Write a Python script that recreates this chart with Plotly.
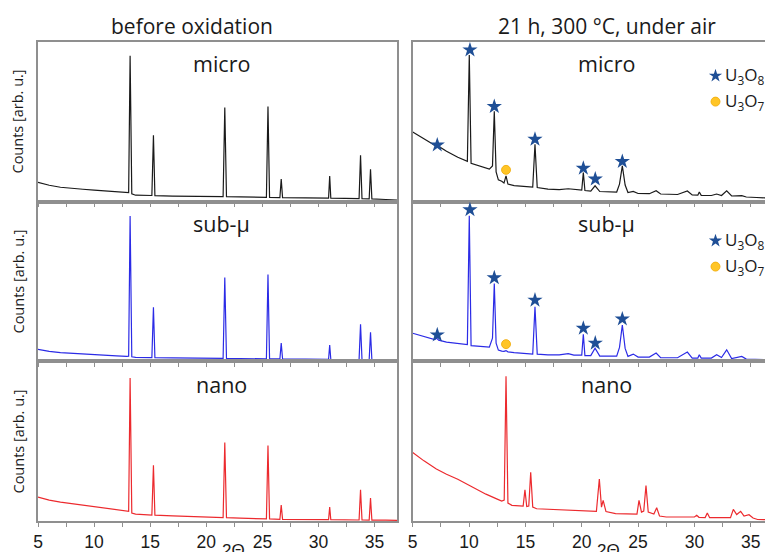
import plotly.graph_objects as go

# ---------------- data (2θ in degrees, counts in arb. units) ----------------
before_micro_2theta = [5, 6, 7, 8, 9, 10, 11, 12, 12.9, 13.08, 13.21, 13.36, 13.7, 15.15, 15.29, 15.42,
                       17, 20, 21.5, 21.65, 21.8, 23, 25.36, 25.5, 25.64, 26.56, 26.68, 26.8, 28,
                       30.9, 31.0, 31.1, 33.62, 33.75, 33.88, 34.52, 34.64, 34.76, 36, 37]
before_micro_counts = [19.5, 16.5, 14.5, 13.3, 12.5, 11.7, 10.8, 9.8, 8.8, 9, 146.7, 8, 6.5, 6.2, 66.7, 6,
                       5.5, 5.2, 5, 94.7, 5, 4.8, 4.3, 95.7, 4.3, 4, 22.7, 4, 3.8,
                       3.5, 25.7, 3.5, 3, 46.7, 3, 2.8, 32.7, 2.8, 2.2, 1.5]

before_sub_2theta = before_micro_2theta
before_sub_counts = [12, 10, 8.8, 8, 7.3, 6.7, 6.1, 5.5, 5, 5.2, 146.3, 4.6, 4, 3.7, 54.3, 3.6,
                     3.4, 3.1, 2.9, 84.3, 2.9, 2.8, 2.5, 87.3, 2.5, 2.4, 18.3, 2.4, 2.3,
                     2.1, 16.3, 2.1, 1.8, 37.3, 1.8, 1.7, 29.3, 1.7, 1.4, 1.2]

before_nano_2theta = before_micro_2theta
before_nano_counts = [24, 21, 19, 17.5, 16, 14.5, 13, 11, 9.5, 9.8, 144, 8, 7, 6, 56, 5.9,
                      5.2, 4.2, 3.5, 79, 3.4, 2.8, 2.2, 76, 2.1, 1.6, 16, 1.6, 1.5,
                      1.3, 14, 1.3, 1, 31.3, 1, 0.9, 23, 0.9, 0.8, 0.7]

after_micro_2theta = [5.0, 5.5, 6.0, 6.5, 6.95, 7.13, 7.3, 8.0, 9.0, 9.85, 10.02, 10.18, 11.0, 11.8, 12.08,
                      12.24, 12.4, 12.6, 12.9, 13.1, 13.28, 13.45, 14.0, 15.0, 15.65, 15.85, 16.05, 17.0,
                      18.0, 18.8, 19.3, 20.0, 20.14, 20.28, 20.8, 21.18, 21.6, 23.1, 23.35, 23.6, 23.85,
                      24.1, 24.57, 25.0, 26.0, 26.6, 27.0, 28.5, 29.37, 29.8, 30.3, 30.43, 30.6, 31.5,
                      31.97, 32.4, 32.86, 33.3, 34.2, 34.6, 35.5, 36.4]
after_micro_counts = [70, 66.7, 63.2, 60.2, 56.7, 58.7, 55.7, 50.7, 44.7, 40.5, 147.7, 38.7, 35.7, 32.7, 36,
                      91, 30, 22, 20.5, 18.7, 26, 17.7, 16.2, 15.2, 14.7, 57.7, 14.2, 12.7,
                      12.2, 13, 12.2, 11.7, 29.4, 11.2, 10.7, 16, 10.2, 9.7, 17.7, 36, 16.7,
                      9.2, 10.4, 8.2, 8, 11, 7.7, 7.2, 10.7, 6.7, 6.5, 9.7, 6.4, 6.2,
                      7.7, 6.2, 11, 5.7, 6, 4.7, 4.2, 3.7]

after_sub_2theta = after_micro_2theta
after_sub_counts = [28.3, 26.8, 25.3, 23.6, 21.8, 23.3, 21.3, 19.3, 17.8, 16.8, 146.6, 15.8, 15, 14.3, 23.3,
                    78.3, 18.3, 11.3, 10.3, 10, 10.8, 9.6, 8.8, 7.8, 7.3, 55, 7.3, 6.6,
                    6.5, 7.8, 6.3, 6.3, 27.3, 5.8, 5.8, 13.3, 5.3, 5.3, 14, 36.6, 13,
                    5, 7.3, 4.3, 4.3, 8.3, 3.8, 3.6, 9.3, 3.3, 3.3, 6.6, 3.3, 3.3,
                    6.6, 3.8, 11.6, 2.8, 5, 2.3, 1.8, 1.6]

after_nano_2theta = [5, 6, 7.1, 8, 9, 9.8, 10.5, 11.5, 12.5, 12.9, 13.12, 13.28, 13.45, 13.8, 14.8, 14.96,
                     15.12, 15.3, 15.47, 15.65, 16, 18, 20, 21.3, 21.56, 21.75, 21.9, 22.15, 23, 24.9,
                     25.08, 25.3, 25.5, 25.7, 25.9, 26.4, 26.65, 26.9, 27.5, 30.0, 30.2, 30.4, 30.95,
                     31.14, 31.35, 33.2, 33.45, 33.75, 34.1, 34.4, 34.84, 35.2, 35.6, 36.4]
after_nano_counts = [69, 60.5, 52.3, 47, 42, 37.3, 33, 27, 22, 20, 21, 145.7, 18, 15.7, 15, 31.3,
                     14.5, 15, 49, 14, 12.3, 11.5, 10.5, 9.7, 42.3, 14, 20.7, 9.5, 7.5, 7,
                     20.7, 9, 10, 35.7, 9, 7, 13.3, 5, 4, 4, 5.7, 3.7, 3.5,
                     8, 3.3, 3.3, 11.7, 6.5, 9.7, 5, 6.3, 3, 1.5, 1.3]

# phase markers (after oxidation)
u3o8_micro_2theta = [7.18, 10.08, 12.24, 15.85, 20.14, 21.2, 23.6]
u3o8_micro_counts = [57, 152.7, 95.7, 62.7, 33.7, 22.7, 40.4]
u3o7_micro_2theta = [13.28]
u3o7_micro_counts = [32]
u3o8_sub_2theta = [7.18, 10.08, 12.24, 15.85, 20.14, 21.2, 23.6]
u3o8_sub_counts = [26.6, 152.6, 84, 61.6, 33.3, 18.3, 42.6]
u3o7_sub_2theta = [13.28]
u3o7_sub_counts = [17.3]

column_titles = ["before oxidation", "21 h, 300 °C, under air"]
row_labels = ["micro", "sub-µ", "nano"]

# ---------------- figure ----------------
W, H = 765, 552
ML, MR, MT, MB = 38, 0, 42, 28
PW, PH = W - ML - MR, H - MT - MB

def px_x(p):
    return (p - ML) / PW

def px_y(p):
    return (H - MB - p) / PH

BLACK, BLUE, RED = "#1a1a1a", "#2b2be6", "#ec2a2e"
STAR, DOT = "#1f4f96", "#ffc526"
FRAME = "#8f8f8f"
YMAX = PH / 3.0

fig = go.Figure()

left_dom = [0, px_x(397)]
right_dom = [px_x(412.7), 1]
row_doms = [[2 / 3, 1], [1 / 3, 2 / 3], [0, 1 / 3]]

curves = [
    (before_micro_2theta, before_micro_counts, BLACK, 0, 0),
    (before_sub_2theta, before_sub_counts, BLUE, 1, 0),
    (before_nano_2theta, before_nano_counts, RED, 2, 0),
    (after_micro_2theta, after_micro_counts, BLACK, 0, 1),
    (after_sub_2theta, after_sub_counts, BLUE, 1, 1),
    (after_nano_2theta, after_nano_counts, RED, 2, 1),
]

def axis_ids(r, c):
    n = r * 2 + c + 1
    return ("x" if n == 1 else f"x{n}"), ("y" if n == 1 else f"y{n}")

for xs, ys, col, r, c in curves:
    xa, ya = axis_ids(r, c)
    fig.add_trace(go.Scatter(x=xs, y=ys, mode="lines", line=dict(color=col, width=1.2),
                             xaxis=xa, yaxis=ya, showlegend=False, hoverinfo="skip"))

for (sx, sy, ox, oy, r) in [(u3o8_micro_2theta, u3o8_micro_counts, u3o7_micro_2theta, u3o7_micro_counts, 0),
                            (u3o8_sub_2theta, u3o8_sub_counts, u3o7_sub_2theta, u3o7_sub_counts, 1)]:
    xa, ya = axis_ids(r, 1)
    fig.add_trace(go.Scatter(x=sx, y=sy, mode="markers", xaxis=xa, yaxis=ya, showlegend=False,
                             marker=dict(symbol="star", size=11.5, color=STAR, line=dict(width=0))))
    fig.add_trace(go.Scatter(x=ox, y=oy, mode="markers", xaxis=xa, yaxis=ya, showlegend=False,
                             marker=dict(symbol="circle", size=9, color=DOT,
                                         line=dict(width=0.8, color="#f0a800"))))

layout = dict(width=W, height=H, margin=dict(l=ML, r=MR, t=MT, b=MB),
              paper_bgcolor="white", plot_bgcolor="white", showlegend=False)

for r in range(3):
    for c in range(2):
        n = r * 2 + c + 1
        xk = "xaxis" if n == 1 else f"xaxis{n}"
        yk = "yaxis" if n == 1 else f"yaxis{n}"
        xa, ya = axis_ids(r, c)
        xrange = [5, 37.0] if c == 0 else [5, 5 + (765 - 412.7) / 11.27]
        layout[xk] = dict(domain=left_dom if c == 0 else right_dom, anchor=ya, range=xrange,
                          showgrid=False, zeroline=False, showline=True, linecolor=FRAME, linewidth=1.5,
                          mirror=True, ticks="outside", ticklen=4, tickcolor=FRAME, tickwidth=1,
                          tickmode="linear", tick0=5, dtick=5,
                          minor=dict(dtick=2.5, tick0=5, ticks="outside", ticklen=4,
                                     tickcolor=FRAME, tickwidth=1, showgrid=False),
                          showticklabels=(r == 2),
                          tickfont=dict(family="Liberation Sans, Arial", size=17.5, color="#1a1a1a"))
        layout[yk] = dict(domain=row_doms[r], anchor=xa, range=[0, YMAX], showgrid=False,
                          zeroline=False, showline=True, linecolor=FRAME, linewidth=1.5,
                          mirror=(c == 0), showticklabels=False, ticks="")

fig.update_layout(**layout)

TF = "Open Sans, Lato, sans-serif"

def label(text, cx, cy, size, family=TF, xanchor="center", yanchor="middle", angle=0):
    return dict(text=text, x=px_x(cx), y=px_y(cy), xref="paper", yref="paper", showarrow=False,
                xanchor=xanchor, yanchor=yanchor, textangle=angle,
                font=dict(family=family, size=size, color="#1a1a1a"))

ann = [label(column_titles[0], 192, 26, 21), label(column_titles[1], 607, 26, 21)]
row_label_y = [64, 225, 387]
for r in range(3):
    for cx in (221, 606):
        ann.append(label(row_labels[r], cx, row_label_y[r], 21.5))
    ann.append(label("Counts [arb. u.]", 18, 122 + 161 * r, 14.5, angle=-90))
for cx in (233, 608):
    ann.append(label("2Θ", cx, 542, 17, family="Liberation Sans, Arial", yanchor="top"))

# phase legend (inside the right-hand micro and sub-µ panels)
for r, (ys, yc) in enumerate([(76, 102), (242, 268)]):
    ann.append(label("U<sub>3</sub>O<sub>8</sub>", 723, ys, 17, xanchor="left"))
    ann.append(label("U<sub>3</sub>O<sub>7</sub>", 723, yc, 17, xanchor="left"))
    xa, ya = axis_ids(r, 1)
    bottom = [202.67, 363.33][r]
    xdeg = 5 + (715.5 - 412.7) / 11.27
    fig.add_trace(go.Scatter(x=[xdeg], y=[bottom - ys], mode="markers", xaxis=xa, yaxis=ya,
                             showlegend=False, marker=dict(symbol="star", size=10, color=STAR)))
    fig.add_trace(go.Scatter(x=[xdeg], y=[bottom - yc], mode="markers", xaxis=xa, yaxis=ya,
                             showlegend=False, marker=dict(symbol="circle", size=9, color=DOT,
                                                           line=dict(width=0.8, color="#f0a800"))))

fig.update_layout(annotations=ann)
fig.write_html("out.html", config={"displayModeBar": False},
               post_script="document.body.style.margin='0';document.body.style.overflow='hidden';")
